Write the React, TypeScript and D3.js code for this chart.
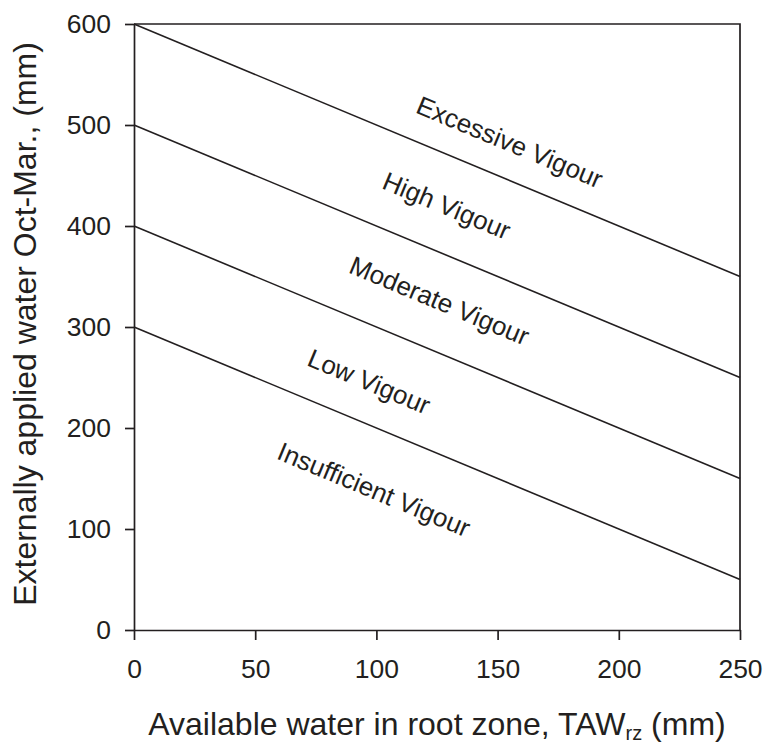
import React, { useEffect, useRef } from "react";
import * as d3 from "d3";

const xTicks = [0, 50, 100, 150, 200, 250];
const yTicks = [0, 100, 200, 300, 400, 500, 600];
// boundary lines: value at TAW = 0 and at TAW = 250
const lineStarts = [600, 500, 400, 300];
const lineEnds = [350, 250, 150, 50];
const zoneNames = ["Excessive Vigour", "High Vigour", "Moderate Vigour", "Low Vigour", "Insufficient Vigour"];
const zoneX = [155, 129, 126, 97, 99];
const zoneY = [483, 420, 326, 246, 139];

const App = () => {
  const svgRef = useRef<SVGSVGElement>(null);

  useEffect(() => {
    const w = 763;
    const h = 742;
    const ink = "#231f20";
    const font = "'Liberation Sans', Arial, Helvetica, sans-serif";
    const stretch = 1.06; // tick numbers are a bit wider than plain Arial

    const svg = d3.select(svgRef.current).attr("width", w).attr("height", h);
    svg.selectAll("*").remove();

    const x = d3.scaleLinear().domain([0, 250]).range([134, 740]);
    const y = d3.scaleLinear().domain([0, 600]).range([630, 24]);

    // frame (top and right)
    svg
      .append("path")
      .attr("d", `M${x(0)},${y(600)}H${x(250)}V${y(0)}`)
      .attr("fill", "none")
      .attr("stroke", ink)
      .attr("stroke-width", 1.7);

    // axes
    const xAxis = d3.axisBottom(x).tickValues(xTicks).tickSize(10).tickPadding(20).tickSizeOuter(0);
    const yAxis = d3.axisLeft(y).tickValues(yTicks).tickSize(9).tickPadding(14).tickSizeOuter(0);

    const gx = svg.append("g").attr("transform", `translate(0,${y(0)})`).call(xAxis);
    const gy = svg.append("g").attr("transform", `translate(${x(0)},0)`).call(yAxis);

    [gx, gy].forEach((g) => {
      g.select(".domain").attr("stroke", ink).attr("stroke-width", 1.7);
      g.selectAll(".tick line").attr("stroke", ink).attr("stroke-width", 1.7);
      g.selectAll(".tick text")
        .attr("fill", ink)
        .style("font-family", font)
        .style("font-size", "25px");
    });
    gx.selectAll(".tick text").attr("transform", `scale(${stretch},1)`);
    gy.selectAll(".tick text")
      .attr("x", -23 / stretch)
      .attr("transform", `scale(${stretch},1)`);

    // boundary lines
    const line = d3
      .line<[number, number]>()
      .x((d) => x(d[0]))
      .y((d) => y(d[1]));

    svg
      .selectAll(".bound")
      .data(lineStarts.map((s, i) => [[0, s], [250, lineEnds[i]]] as [number, number][]))
      .join("path")
      .attr("class", "bound")
      .attr("d", (d) => line(d))
      .attr("fill", "none")
      .attr("stroke", ink)
      .attr("stroke-width", 1.6);

    // zone labels, parallel to the lines
    const angle =
      (Math.atan2(y(lineEnds[0]) - y(lineStarts[0]), x(250) - x(0)) * 180) / Math.PI;

    svg
      .selectAll(".zone")
      .data(zoneNames)
      .join("text")
      .attr("class", "zone")
      .attr("transform", (d, i) => `translate(${x(zoneX[i])},${y(zoneY[i])}) rotate(${angle})`)
      .attr("text-anchor", "middle")
      .attr("dominant-baseline", "central")
      .attr("fill", ink)
      .style("font-family", font)
      .style("font-size", "26px")
      .text((d) => d);

    // axis titles
    const xt = svg
      .append("text")
      .attr("x", (x(0) + x(250)) / 2)
      .attr("y", 735)
      .attr("text-anchor", "middle")
      .attr("fill", ink)
      .style("font-family", font)
      .style("font-size", "32px");
    xt.append("tspan").text("Available water in root zone, TAW");
    xt.append("tspan").attr("dy", 5).style("font-size", "20px").text("rz");
    xt.append("tspan").attr("dy", -5).text(" (mm)");

    svg
      .append("text")
      .attr("transform", `translate(36,${(y(0) + y(600)) / 2 - 3}) rotate(-90)`)
      .attr("text-anchor", "middle")
      .attr("fill", ink)
      .style("font-family", font)
      .style("font-size", "32px")
      .text("Externally applied water Oct-Mar., (mm)");
  }, []);

  return (
    <div style={{ position: "absolute", left: 0, top: 0, background: "white" }}>
      <svg ref={svgRef} style={{ display: "block" }}></svg>
    </div>
  );
};

export default App;
